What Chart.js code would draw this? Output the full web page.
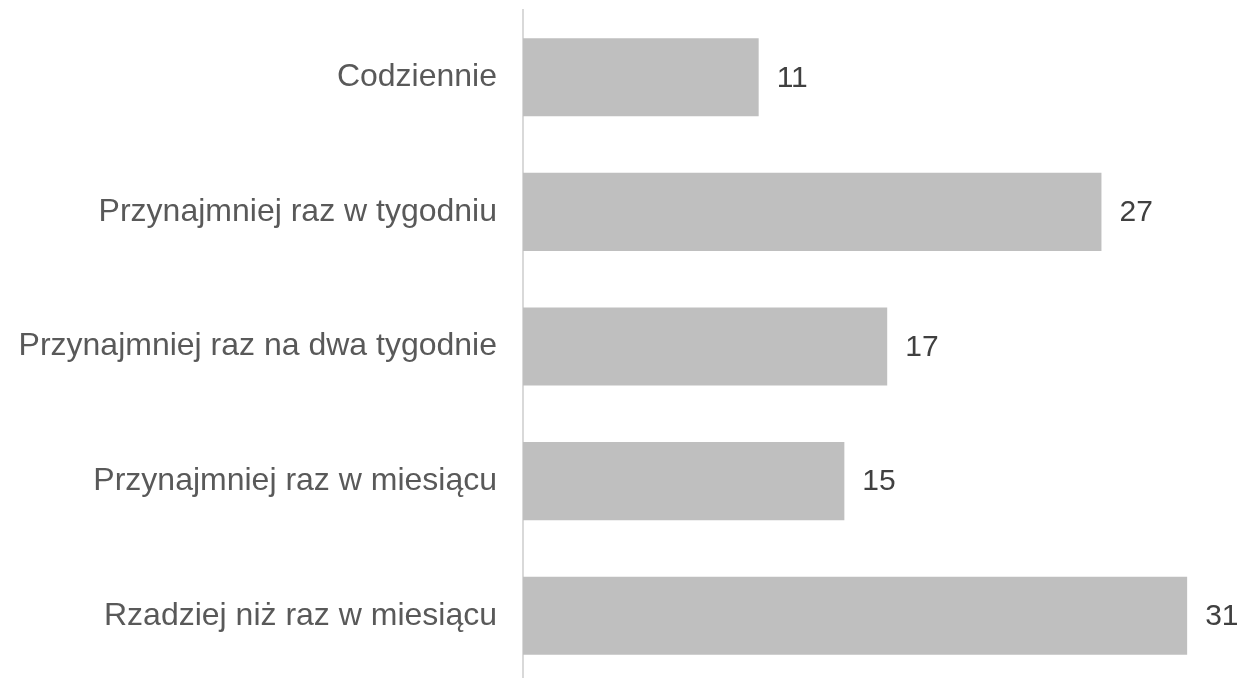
<!DOCTYPE html>
<html>
<head>
<meta charset="utf-8">
<script src="https://cdn.jsdelivr.net/npm/chart.js@4"></script>
<style>
  html, body { margin: 0; padding: 0; background: #fff; overflow: hidden; }
  #wrap { width: 1238px; height: 683px; position: relative; }
</style>
</head>
<body>
<div id="wrap"><canvas id="czestotliwoscChart"></canvas></div>
<script>
var kategorie = ['Codziennie', 'Przynajmniej raz w tygodniu', 'Przynajmniej raz na dwa tygodnie', 'Przynajmniej raz w miesiącu', 'Rzadziej niż raz w miesiącu'];
var wartosci = [11, 27, 17, 15, 31];

// etykiety z wartościami przy końcu słupków
var etykietyPlugin = {
    id: 'etykiety',
    afterDatasetsDraw: function (chart) {
        var ctx = chart.ctx;
        var meta = chart.getDatasetMeta(0);
        ctx.save();
        ctx.font = '30px "Liberation Sans", Arial, sans-serif';
        ctx.fillStyle = '#404040';
        ctx.textAlign = 'left';
        ctx.textBaseline = 'middle';
        meta.data.forEach(function (bar, i) {
            ctx.fillText(String(wartosci[i]), bar.x + 18, bar.y + 1);
        });
        ctx.restore();
    }
};

var ctx = document.getElementById('czestotliwoscChart').getContext('2d');
var czestotliwoscChart = new Chart(ctx, {
    type: 'bar',
    data: {
        labels: kategorie,
        datasets: [{
            data: wartosci,
            backgroundColor: '#bfbfbf',
            borderWidth: 0,
            categoryPercentage: 1,
            barPercentage: 0.58
        }]
    },
    options: {
        indexAxis: 'y',
        responsive: true,
        maintainAspectRatio: false,
        animation: false,
        layout: { padding: { top: 10, right: 8, bottom: 0, left: 0 } },
        plugins: {
            legend: { display: false },
            tooltip: { enabled: false }
        },
        scales: {
            x: {
                display: false,
                min: 0,
                max: 33
            },
            y: {
                afterFit: function (scale) {
                    scale.width = 523;
                    scale.paddingTop = 0;
                    scale.paddingBottom = 0;
                },
                grid: { display: false, drawTicks: false },
                border: { display: true, color: '#d9d9d9', width: 2 },
                ticks: {
                    padding: 26,
                    color: '#595959',
                    font: { family: '"Liberation Sans", Arial, sans-serif', size: 32 }
                }
            }
        }
    },
    plugins: [etykietyPlugin]
});
</script>
</body>
</html>
